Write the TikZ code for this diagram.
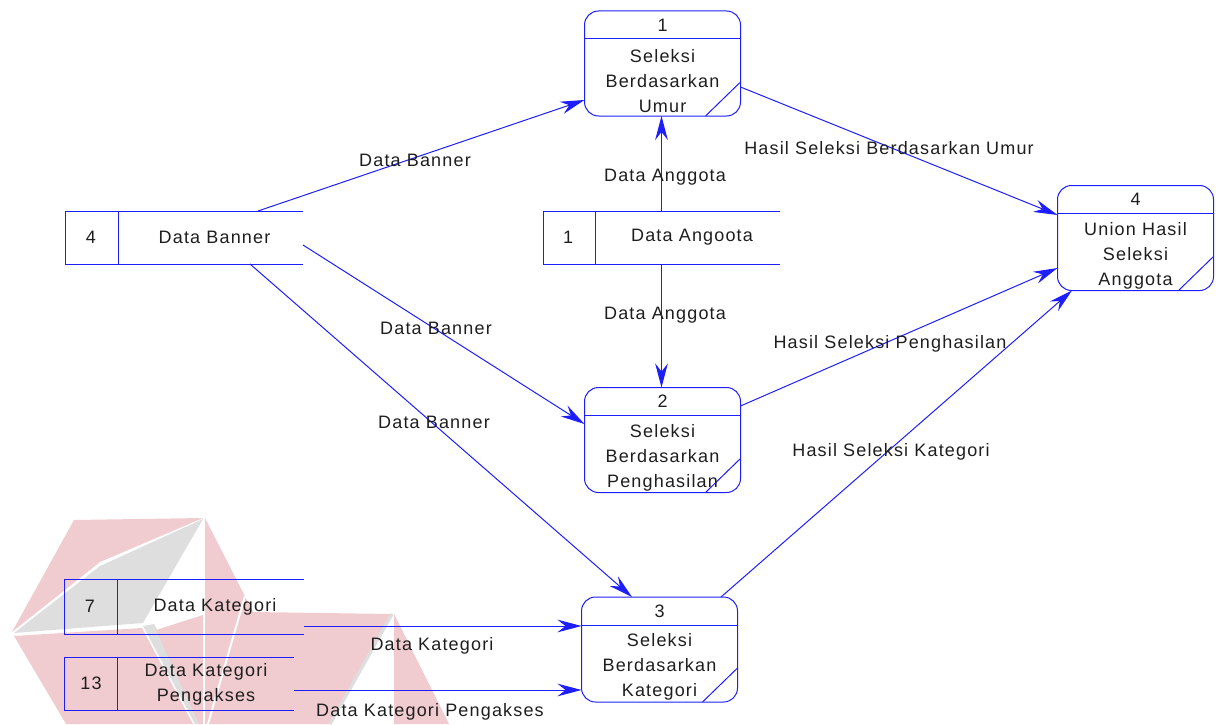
\documentclass[tikz,border=0pt]{standalone}
\usepackage{fontspec}
\setmainfont{Liberation Sans}[LetterSpace=6.5]
\usetikzlibrary{arrows.meta,calc}
\definecolor{flow}{RGB}{30,30,250}
\definecolor{ink}{RGB}{30,30,30}
\definecolor{wmred}{RGB}{240,203,207}
\definecolor{wmgrey}{RGB}{222,222,222}

\begin{document}
\begin{tikzpicture}[x=0.75pt,y=-0.75pt,
  every node/.style={inner sep=0pt,outer sep=0pt,text=ink,font=\fontsize{13.5}{18.75}\selectfont},
  procbox/.style={draw=flow,line width=0.75pt,rounded corners=10.5pt,rectangle,
    minimum width=117pt,minimum height=78.75pt},
  storebox/.style={rectangle,minimum height=39.75pt},
  rule/.style={draw=flow,line width=0.75pt},
  flowline/.style={draw=flow,line width=0.75pt,-{Stealth[length=18pt,width=9.5pt,inset=6pt]}},
  txt/.style={align=center},
]
\useasboundingbox (0,0) rectangle (1216,724);

% faint emblem in the lower left corner
\fill[wmred] (74,520) -- (203,518) -- (100,562) -- (12,632) -- cycle;
\fill[wmgrey] (14,633) -- (100,566) -- (203,519) -- (143,623) -- cycle;
\fill[wmred] (14,636) -- (142,628) -- (193,724) -- (66,724) -- cycle;
\fill[wmgrey] (143,626) -- (154,624) -- (203,712) -- (200,724) -- (195,724) -- cycle;
\fill[wmred] (156,630) -- (203,615) -- (203,724) -- (199,724) -- cycle;
\fill[wmred] (205,518) -- (253,612) -- (392,614) -- (330,724) -- (205,724) -- cycle;
\draw[white,line width=1.5pt] (245,596) -- (208,724);
\draw[wmgrey,line width=2.5pt] (392,614) -- (330,724);
\fill[wmred] (394,614) -- (449,724) -- (394,724) -- cycle;

% processes
\node[procbox] (p1) at (662.5,63.5) {};
\node[procbox] (p2) at (662.5,440) {};
\node[procbox] (p3) at (659.5,649.5) {};
\node[procbox] (p4) at (1135.5,238) {};
\foreach \p in {p1,p2,p3,p4}{
  \draw[rule] ([yshift=-21pt]\p.north west) -- ([yshift=-21pt]\p.north east);
  \draw[rule] ([yshift=25.5pt]\p.south east) -- ([xshift=-26.25pt]\p.south east);
}
\node (n1) at ([yshift=-10.5pt]p1.north) {1};
\node (n2) at ([yshift=-10.5pt]p2.north) {2};
\node (n3) at ([yshift=-10.5pt]p3.north) {3};
\node (n4) at ([yshift=-10.5pt]p4.north) {4};
\node[txt] (t1) at ([yshift=-13.5pt]p1.center) {Seleksi\\Berdasarkan\\Umur};
\node[txt] (t2) at ([yshift=-13.1pt]p2.center) {Seleksi\\Berdasarkan\\Penghasilan};
\node[txt] (t3) at ([yshift=-13.1pt]p3.center) {Seleksi\\Berdasarkan\\Kategori};
\node[txt] (t4) at ([yshift=-13.1pt]p4.center) {Union Hasil\\Seleksi\\Anggota};

% data stores
\node[storebox,minimum width=178.5pt] (ds1) at (184,237.5) {};
\node[storebox,minimum width=177.75pt] (ds2) at (661.5,237.5) {};
\node[storebox,minimum width=180pt,minimum height=41.25pt] (ds3) at (184,606.5) {};
\node[storebox,minimum width=172.5pt] (ds4) at (179,683.5) {};
\foreach \d/\w in {ds1/39.75pt,ds2/39pt,ds3/39.75pt,ds4/39.75pt}{
  \draw[rule] (\d.north east) -- (\d.north west) -- (\d.south west) -- (\d.south east);
  \draw[rule] ([xshift=\w]\d.north west) -- ([xshift=\w]\d.south west);
}
\node (m1) at ([xshift=19.5pt]ds1.west) {4};
\node (m2) at ([xshift=18.75pt]ds2.west) {1};
\node (m3) at ([xshift=19.5pt]ds3.west) {7};
\node (m4) at ([xshift=20.25pt]ds4.west) {13};
\node (s1) at ([xshift=22.9pt]ds1.center) {Data Banner};
\node (s2) at ([xshift=22.9pt]ds2.center) {Data Angoota};
\node (s3) at ([xshift=23.25pt]ds3.center) {Data Kategori};
\node[txt,text depth=0pt] (s4) at ([xshift=20.25pt,yshift=0.4pt]ds4.center) {Data Kategori\\Pengakses};

% flows
\draw[flowline] ([xshift=55.5pt]ds1.north) -- ([yshift=-27.375pt]p1.west);
\draw[flowline] (ds2.north) -- (ds2.north |- p1.south);
\draw[flowline] ([yshift=-5.625pt]ds1.east) -- ([yshift=12pt]p2.west);
\draw[flowline] (ds2.south) -- (ds2.south |- p2.north);
\draw[flowline] ([xshift=49.5pt]ds1.south) -- ([xshift=-20.625pt]p3.north);
\draw[flowline] ([yshift=-17.625pt]p1.east) -- ([yshift=17.25pt]p4.west);
\draw[flowline] ([yshift=25.5pt]p2.east) -- ([yshift=-22.5pt]p4.west);
\draw[flowline] ([xshift=46.125pt]p3.north) -- ([xshift=-47.625pt]p4.south);
\draw[flowline] ([yshift=-14.625pt]ds3.east) coordinate (k1) -- (k1 -| p3.west);
\draw[flowline] ([yshift=-4.875pt]ds4.east) coordinate (k2) -- (k2 -| p3.west);

% flow labels
\node (l1) at (415,160) {Data Banner};
\node (l2) at (665,177) {Data Anggota};
\node (l3) at (436,328) {Data Banner};
\node (l4) at (665,315) {Data Anggota};
\node (l5) at (434,422) {Data Banner};
\node (l6) at (889,148) {Hasil Seleksi Berdasarkan Umur};
\node (l7) at (890,344) {Hasil Seleksi Penghasilan};
\node (l8) at (891,452) {Hasil Seleksi Kategori};
\node (l9) at (432,646) {Data Kategori};
\node (l10) at (430,712) {Data Kategori Pengakses};
\end{tikzpicture}
\end{document}
